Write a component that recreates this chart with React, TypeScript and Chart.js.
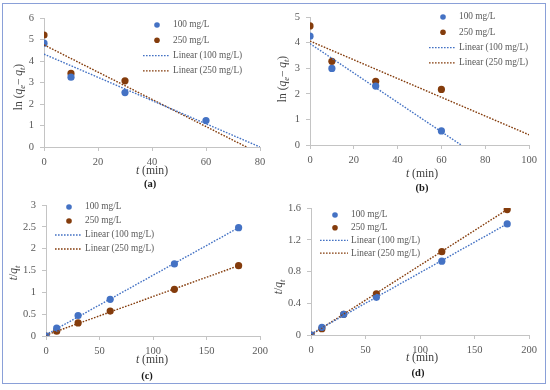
import React, { useEffect, useRef } from 'react';
import { Chart, registerables } from 'chart.js';

Chart.register(...registerables);

const FONT = "'Liberation Serif', 'Times New Roman', serif";
const BLUE = '#4472C4';
const BROWN = '#843C0C';
const AXIS = '#c4c4c4';
const TICK = '#595959';
const TITLE = '#404040';

// ---- Panel (a): ln(qe - qt) vs t, pseudo-first-order ----
const timeA100 = [0, 10, 30, 60];
const valA100 = [4.83, 3.25, 2.53, 1.23];
const timeA250 = [0, 10, 30];
const valA250 = [5.21, 3.42, 3.08];
const fitA100X = [0, 80];
const fitA100Y = [4.32, 0];
const fitA250X = [0, 75];
const fitA250Y = [4.75, 0];
const xTicksA = [0, 20, 40, 60, 80];
const yTicksA = [0, 1, 2, 3, 4, 5, 6];

// ---- Panel (b) ----
const timeB = [0, 10, 30, 60];
const valB100 = [4.25, 2.99, 2.3, 0.55];
const valB250 = [4.65, 3.27, 2.49, 2.17];
const fitB100X = [0, 69];
const fitB100Y = [3.96, 0];
const fitB250X = [0, 100];
const fitB250Y = [4.06, 0.4];
const xTicksB = [0, 20, 40, 60, 80, 100];
const yTicksB = [0, 1, 2, 3, 4, 5];

// ---- Panel (c): t/qt vs t ----
const timeC = [0, 10, 30, 60, 120, 180];
const valC100 = [0, 0.18, 0.47, 0.84, 1.65, 2.48];
const valC250 = [0, 0.11, 0.3, 0.57, 1.07, 1.61];
const fitC100X = [0, 180];
const fitC100Y = [0.03, 2.48];
const fitC250X = [0, 180];
const fitC250Y = [0.02, 1.61];
const xTicksC = [0, 50, 100, 150, 200];
const yTicksC = [0, 0.5, 1, 1.5, 2, 2.5, 3];

// ---- Panel (d) ----
const timeD = [0, 10, 30, 60, 120, 180];
const valD100 = [0, 0.097, 0.26, 0.475, 0.93, 1.4];
const valD250 = [0, 0.08, 0.26, 0.52, 1.05, 1.58];
const fitD100X = [0, 180];
const fitD100Y = [0.015, 1.4];
const fitD250X = [0, 180];
const fitD250Y = [0, 1.58];
const xTicksD = [0, 50, 100, 150, 200];
const yTicksD = [0, 0.4, 0.8, 1.2, 1.6];

const legendLabels = ['100 mg/L', '250 mg/L', 'Linear (100 mg/L)', 'Linear (250 mg/L)'];

type Seg = { t: string; it?: boolean; sub?: boolean; bold?: boolean };

const Y_LN: Seg[] = [
  { t: 'ln (' },
  { t: 'q', it: true },
  { t: 'e', it: true, sub: true },
  { t: '\u2212 ' },
  { t: 'q', it: true },
  { t: 't', it: true, sub: true },
  { t: ')' },
];
const Y_TQ: Seg[] = [
  { t: 't', it: true },
  { t: '/' },
  { t: 'q', it: true },
  { t: 't', it: true, sub: true },
];
const X_T: Seg[] = [{ t: 't', it: true }, { t: ' (min)' }];

function drawRich(ctx: CanvasRenderingContext2D, segs: Seg[], cx: number, cy: number, size: number, color: string, rot: boolean) {
  ctx.save();
  ctx.translate(cx, cy);
  if (rot) ctx.rotate(-Math.PI / 2);
  const fontOf = (s: Seg) =>
    `${s.it ? 'italic ' : ''}${s.bold ? 'bold ' : ''}${s.sub ? size * 0.72 : size}px ${FONT}`;
  let total = 0;
  const widths = segs.map((s) => {
    ctx.font = fontOf(s);
    const w = ctx.measureText(s.t).width;
    total += w;
    return w;
  });
  let x = -total / 2;
  ctx.fillStyle = color;
  ctx.textBaseline = 'middle';
  ctx.textAlign = 'left';
  segs.forEach((s, i) => {
    ctx.font = fontOf(s);
    ctx.fillText(s.t, x, s.sub ? size * 0.3 : 0);
    x += widths[i];
  });
  ctx.restore();
}

type PanelCfg = {
  area: { left: number; right: number; top: number; bottom: number };
  xMin: number; xMax: number; yMin: number; yMax: number;
  xTicks: number[]; yTicks: number[];
  s100: { x: number[]; y: number[] };
  s250: { x: number[]; y: number[] };
  f100: { x: number[]; y: number[] };
  f250: { x: number[]; y: number[] };
  legend: { mx: number; l1: number; l2: number; tx: number; y0: number; dy: number };
  xTitle: [number, number];
  label: string; labelPos: [number, number];
  yTitle: Seg[]; yTitlePos: [number, number];
};

const W = 550;
const H = 390;
const Y_AXIS_W = 30;
const X_AXIS_H = 20;

const panels: PanelCfg[] = [
  {
    area: { left: 44, right: 260, top: 18, bottom: 147 },
    xMin: 0, xMax: 80, yMin: 0, yMax: 6, xTicks: xTicksA, yTicks: yTicksA,
    s100: { x: timeA100, y: valA100 }, s250: { x: timeA250, y: valA250 },
    f100: { x: fitA100X, y: fitA100Y }, f250: { x: fitA250X, y: fitA250Y },
    legend: { mx: 157, l1: 143, l2: 170, tx: 173, y0: 25, dy: 15.3 },
    xTitle: [152, 171], label: '(a)', labelPos: [150, 184],
    yTitle: Y_LN, yTitlePos: [19, 87],
  },
  {
    area: { left: 310, right: 529, top: 17, bottom: 145 },
    xMin: 0, xMax: 100, yMin: 0, yMax: 5, xTicks: xTicksB, yTicks: yTicksB,
    s100: { x: timeB, y: valB100 }, s250: { x: timeB, y: valB250 },
    f100: { x: fitB100X, y: fitB100Y }, f250: { x: fitB250X, y: fitB250Y },
    legend: { mx: 443, l1: 429, l2: 455, tx: 459, y0: 17, dy: 15.3 },
    xTitle: [422, 174], label: '(b)', labelPos: [422, 188],
    yTitle: Y_LN, yTitlePos: [283, 79],
  },
  {
    area: { left: 46, right: 260, top: 205, bottom: 336 },
    xMin: 0, xMax: 200, yMin: 0, yMax: 3, xTicks: xTicksC, yTicks: yTicksC,
    s100: { x: timeC, y: valC100 }, s250: { x: timeC, y: valC250 },
    f100: { x: fitC100X, y: fitC100Y }, f250: { x: fitC250X, y: fitC250Y },
    legend: { mx: 69, l1: 55, l2: 82, tx: 85, y0: 207, dy: 14 },
    xTitle: [152, 360], label: '(c)', labelPos: [147, 376],
    yTitle: Y_TQ, yTitlePos: [14, 273],
  },
  {
    area: { left: 311, right: 529, top: 208, bottom: 335 },
    xMin: 0, xMax: 200, yMin: 0, yMax: 1.6, xTicks: xTicksD, yTicks: yTicksD,
    s100: { x: timeD, y: valD100 }, s250: { x: timeD, y: valD250 },
    f100: { x: fitD100X, y: fitD100Y }, f250: { x: fitD250X, y: fitD250Y },
    legend: { mx: 335, l1: 320, l2: 348, tx: 351, y0: 215, dy: 12.7 },
    xTitle: [422, 358], label: '(d)', labelPos: [418, 373],
    yTitle: Y_TQ, yTitlePos: [279, 287],
  },
];

const pts = (xs: number[], ys: number[]) => xs.map((x, i) => ({ x, y: ys[i] }));

function makeChart(canvas: HTMLCanvasElement, p: PanelCfg) {
  const decor = {
    id: 'decor',
    afterDraw(chart: any) {
      const ctx: CanvasRenderingContext2D = chart.ctx;
      const L = p.legend;
      const colors = [BLUE, BROWN, BLUE, BROWN];
      legendLabels.forEach((lab, i) => {
        const y = L.y0 + i * L.dy;
        ctx.save();
        if (i < 2) {
          ctx.fillStyle = colors[i];
          ctx.beginPath();
          ctx.arc(L.mx, y, 2.8, 0, Math.PI * 2);
          ctx.fill();
        } else {
          ctx.strokeStyle = colors[i];
          ctx.lineWidth = 1.4;
          ctx.setLineDash([1.6, 1.4]);
          ctx.beginPath();
          ctx.moveTo(L.l1, y);
          ctx.lineTo(L.l2, y);
          ctx.stroke();
        }
        ctx.fillStyle = TICK;
        ctx.font = `9.3px ${FONT}`;
        ctx.textBaseline = 'middle';
        ctx.textAlign = 'left';
        ctx.fillText(lab, L.tx, y);
        ctx.restore();
      });
      drawRich(ctx, X_T, p.xTitle[0], p.xTitle[1], 11.7, TITLE, false);
      drawRich(ctx, [{ t: p.label, bold: true }], p.labelPos[0], p.labelPos[1], 10.5, '#1a1a1a', false);
      drawRich(ctx, p.yTitle, p.yTitlePos[0], p.yTitlePos[1], 11.5, TITLE, true);
    },
  };

  const scaleCommon = {
    type: 'linear' as const,
    grid: {
      display: true,
      drawOnChartArea: false,
      drawTicks: true,
      tickLength: 4,
      color: AXIS,
    },
    border: { display: true, color: AXIS, width: 1 },
  };

  return new Chart(canvas, {
    type: 'scatter',
    data: {
      datasets: [
        {
          label: legendLabels[0],
          data: pts(p.s100.x, p.s100.y),
          backgroundColor: BLUE,
          borderColor: BLUE,
          pointRadius: 3.6,
          borderWidth: 0,
          order: 2,
        },
        {
          label: legendLabels[1],
          data: pts(p.s250.x, p.s250.y),
          backgroundColor: BROWN,
          borderColor: BROWN,
          pointRadius: 3.6,
          borderWidth: 0,
          order: 2,
        },
        {
          type: 'line',
          label: legendLabels[2],
          data: pts(p.f100.x, p.f100.y),
          borderColor: BLUE,
          borderWidth: 1.4,
          borderDash: [1.6, 1.4],
          pointRadius: 0,
          showLine: true,
          fill: false,
          order: 1,
        } as any,
        {
          type: 'line',
          label: legendLabels[3],
          data: pts(p.f250.x, p.f250.y),
          borderColor: BROWN,
          borderWidth: 1.4,
          borderDash: [1.6, 1.4],
          pointRadius: 0,
          showLine: true,
          fill: false,
          order: 1,
        } as any,
      ],
    },
    options: {
      responsive: false,
      animation: false,
      events: [],
      layout: {
        padding: {
          left: p.area.left - Y_AXIS_W,
          right: W - p.area.right,
          top: p.area.top,
          bottom: H - p.area.bottom - X_AXIS_H,
        },
      },
      plugins: { legend: { display: false }, tooltip: { enabled: false } },
      scales: {
        x: {
          ...scaleCommon,
          min: p.xMin,
          max: p.xMax,
          afterBuildTicks: (s: any) => {
            s.ticks = p.xTicks.map((v) => ({ value: v }));
          },
          afterFit: (s: any) => {
            s.height = X_AXIS_H;
          },
          ticks: {
            color: TICK,
            font: { family: FONT, size: 10.5 },
            padding: 5,
            maxRotation: 0,
            autoSkip: false,
          },
        },
        y: {
          ...scaleCommon,
          min: p.yMin,
          max: p.yMax,
          afterBuildTicks: (s: any) => {
            s.ticks = p.yTicks.map((v) => ({ value: v }));
          },
          afterFit: (s: any) => {
            s.width = Y_AXIS_W;
          },
          ticks: {
            color: TICK,
            font: { family: FONT, size: 10.5 },
            padding: 6,
            autoSkip: false,
            callback: (v: any) => String(v),
          },
        },
      },
    },
    plugins: [decor],
  } as any);
}

export default function App() {
  const refs = [
    useRef<HTMLCanvasElement>(null),
    useRef<HTMLCanvasElement>(null),
    useRef<HTMLCanvasElement>(null),
    useRef<HTMLCanvasElement>(null),
  ];
  useEffect(() => {
    const charts = panels.map((p, i) => makeChart(refs[i].current as HTMLCanvasElement, p));
    return () => charts.forEach((c) => c.destroy());
  }, []);

  return (
    <div
      style={{
        position: 'fixed',
        left: 0,
        top: 0,
        width: W,
        height: H,
        background: '#ffffff',
        overflow: 'hidden',
      }}
    >
      <div
        style={{
          position: 'absolute',
          left: 2,
          top: 3,
          width: 544,
          height: 381,
          boxSizing: 'border-box',
          border: '1.5px solid #8aa0d8',
        }}
      />
      {refs.map((r, i) => (
        <canvas
          key={i}
          ref={r}
          width={W}
          height={H}
          style={{ position: 'absolute', left: 0, top: 0, width: W, height: H }}
        />
      ))}
    </div>
  );
}
